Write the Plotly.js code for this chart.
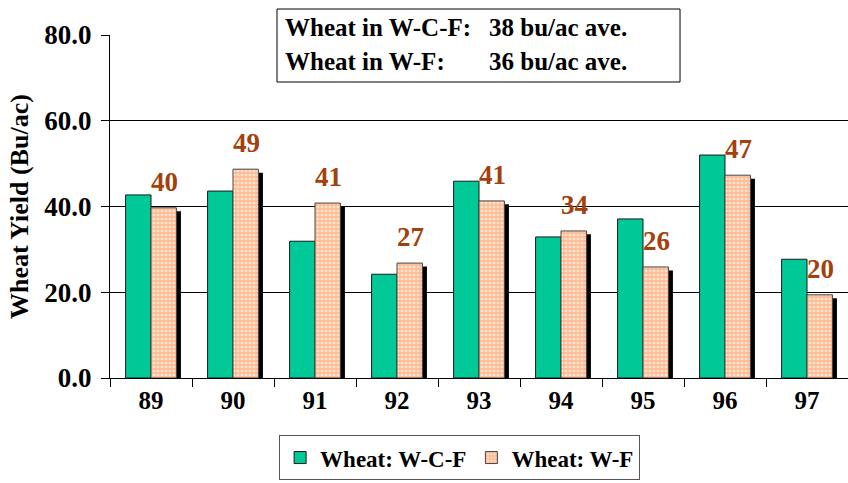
<!DOCTYPE html>
<html>
<head>
<meta charset="utf-8">
<script src="https://cdn.plot.ly/plotly-3.0.1.min.js"></script>
<style>html,body{margin:0;padding:0;background:#fff;}#chart{width:848px;height:483px;}</style>
</head>
<body>
<div id="chart"></div>
<script>
var years = ['89','90','91','92','93','94','95','96','97'];
var wcf = [42.7, 43.6, 31.9, 24.2, 45.9, 32.9, 37.1, 52.0, 27.7];
var wf = [39.7, 48.7, 40.8, 26.8, 41.3, 34.3, 25.9, 47.3, 19.4];
var wfLabels = ['40','49','41','27','41','34','26','47','20'];
var yTicks = [0, 20, 40, 60, 80];
var yTickText = ['0.0', '20.0', '40.0', '60.0', '80.0'];
var boxLines = [['Wheat in W-C-F:', '38 bu/ac ave.'], ['Wheat in W-F:', '36 bu/ac ave.']];

var FONT = 'Liberation Serif, Times New Roman, serif';
var W = 0.31;

var traces = [
  {type:'bar', name:'Wheat: W-C-F', x:years, y:wcf, offset:-W, width:W,
   marker:{color:'#00C896', line:{color:'#1a1a1a', width:1}}},
  {type:'bar', name:'shadow', x:years, y:wf, base:-0.8, offset:0.055, width:W, showlegend:false, hoverinfo:'skip',
   marker:{color:'#000000', line:{width:0}}},
  {type:'bar', name:'Wheat: W-F', x:years, y:wf, offset:0, width:W,
   marker:{color:'#FFD8BC', line:{color:'#444', width:1},
           pattern:{shape:'+', fgcolor:'#FF8A4C', bgcolor:'#FFE4D0', size:4, solidity:0.55, fillmode:'overlay'}}}
];

var annotations = years.map(function(c, i){
  return {x:i, y:wf[i], xref:'x', yref:'y', text:'<b>'+wfLabels[i]+'</b>', showarrow:false,
          xshift:13, yshift:9, yanchor:'bottom', font:{family:FONT, size:27, color:'#A3400C'}};
});
var lineY = [1.023, 0.924];
boxLines.forEach(function(l, i){
  annotations.push({xref:'paper', yref:'paper', x:0.2344, y:lineY[i], xanchor:'left', yanchor:'middle', showarrow:false,
    text:'<b>'+l[0]+'</b>', font:{family:FONT, size:25, color:'#000'}});
  annotations.push({xref:'paper', yref:'paper', x:0.5108, y:lineY[i], xanchor:'left', yanchor:'middle', showarrow:false,
    text:'<b>'+l[1]+'</b>', font:{family:FONT, size:25, color:'#000'}});
});

var layout = {
  width:848, height:483,
  margin:{l:110, r:0, t:35, b:105, autoexpand:false},
  paper_bgcolor:'#fff', plot_bgcolor:'#fff',
  barmode:'overlay',
  showlegend:true,
  legend:{orientation:'h', x:0.542, xref:'container', xanchor:'center', y:0.006, yref:'container', yanchor:'bottom',
          bordercolor:'#555', borderwidth:1, bgcolor:'#fff', itemwidth:30,
          font:{family:FONT, size:23, color:'#000', weight:'bold'}, traceorder:'normal'},
  xaxis:{type:'category', range:[-0.5, 8.5], tickson:'boundaries', ticks:'outside', ticklen:8, tickcolor:'#000',
         showline:true, linecolor:'#000', linewidth:1, showgrid:false, tickangle:0,
         tickfont:{family:FONT, size:25, color:'#000', weight:'bold'}},
  yaxis:{range:[0,80], tickvals:yTicks, ticktext:yTickText, ticks:'outside', ticklen:8, tickcolor:'#000',
         ticklabelstandoff:4,
         showline:true, linecolor:'#000', linewidth:1, showgrid:true, gridcolor:'#000', gridwidth:1,
         zeroline:false,
         tickfont:{family:FONT, size:27, color:'#000', weight:'bold'},
         title:{text:'<b>Wheat Yield (Bu/ac)</b>', font:{family:FONT, size:26, color:'#000'}, standoff:8}},
  shapes:[{type:'rect', xref:'paper', yref:'paper', x0:0.2263, x1:0.7724, y0:0.863, y1:1.0758,
           fillcolor:'#fff', line:{color:'#000', width:1}, layer:'above'}],
  annotations:annotations
};

Plotly.newPlot('chart', traces, layout, {displayModeBar:false, staticPlot:true});
</script>
</body>
</html>
